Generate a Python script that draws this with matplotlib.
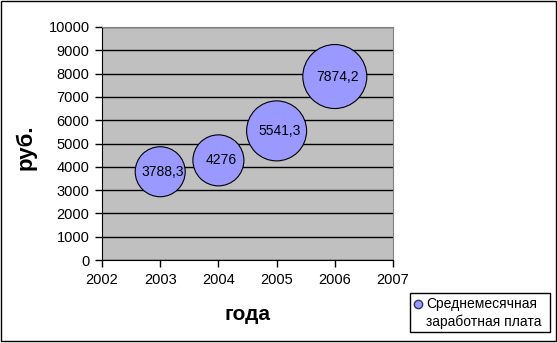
import matplotlib.pyplot as plt
from matplotlib.patches import Rectangle
from matplotlib.lines import Line2D

plt.rcParams['font.family'] = ['Liberation Sans', 'DejaVu Sans']

## data ##
years = [2003, 2004, 2005, 2006]
salary = [3788.3, 4276, 5541.3, 7874.2]
salary_labels = ['3788,3', '4276', '5541,3', '7874,2']
bubble_diam = [50, 51, 60, 64]   # bubble size series (diameter, px)
series_name = 'Среднемесячная\nзаработная плата'

W, H, DPI = 557, 343, 100
fig = plt.figure(figsize=(W/DPI, H/DPI), dpi=DPI)
ax = fig.add_axes([102/W, 83/H, 291/W, 233/H])
ax.set_facecolor('#c0c0c0')

## bubbles ##
sizes = [(d*72./DPI)**2 for d in bubble_diam]
ax.scatter(years, salary, s=sizes, c='#9999ff', edgecolors='black',
           linewidths=0.8, zorder=3, clip_on=False)
for x, y, lab in zip(years, salary, salary_labels):
    ax.annotate(lab, (x, y), xytext=(2, 0), textcoords='offset points',
                ha='center', va='center', fontsize=10, zorder=4)

## axes ##
ax.set_xlim(2002, 2007)
ax.set_ylim(0, 10000)
ax.set_xticks(range(2002, 2008))
ax.set_yticks(range(0, 10001, 1000))
ax.set_axisbelow(True)
ax.grid(axis='y', color='black', linewidth=1)
ax.tick_params(direction='out', length=5, width=1, labelsize=10.5, pad=4)
for side in ['left', 'bottom']:
    ax.spines[side].set_color('black')
for side in ['top', 'right']:
    ax.spines[side].set_color('#808080')

fig.text(26/W, 1 - 147/H, 'руб.', rotation=90, ha='center', va='center',
         fontsize=16, fontweight='bold')
fig.text(247/W, 1 - 314/H, 'года', ha='center', va='center',
         fontsize=15, fontweight='bold')

## legend box, drawn by hand so the marker sits on the first line ##
fig.add_artist(Rectangle((410/W, 1 - 332/H), 140/W, 39/H,
                         transform=fig.transFigure, facecolor='white',
                         edgecolor='black', linewidth=1))
fig.add_artist(Line2D([418/W], [1 - 304/H], transform=fig.transFigure,
                      marker='o', markersize=6, markerfacecolor='#9999ff',
                      markeredgecolor='#333366', linestyle='none'))
fig.text(426/W, 1 - 313/H, series_name, ha='left', va='center',
         fontsize=10, linespacing=1.25)

## outer frame ##
fig.add_artist(Rectangle((0.5/W, 2.5/H), 555/W, 340/H,
                         transform=fig.transFigure, fill=False,
                         edgecolor='black', linewidth=1))

fig.savefig('out.png', dpi=DPI)
